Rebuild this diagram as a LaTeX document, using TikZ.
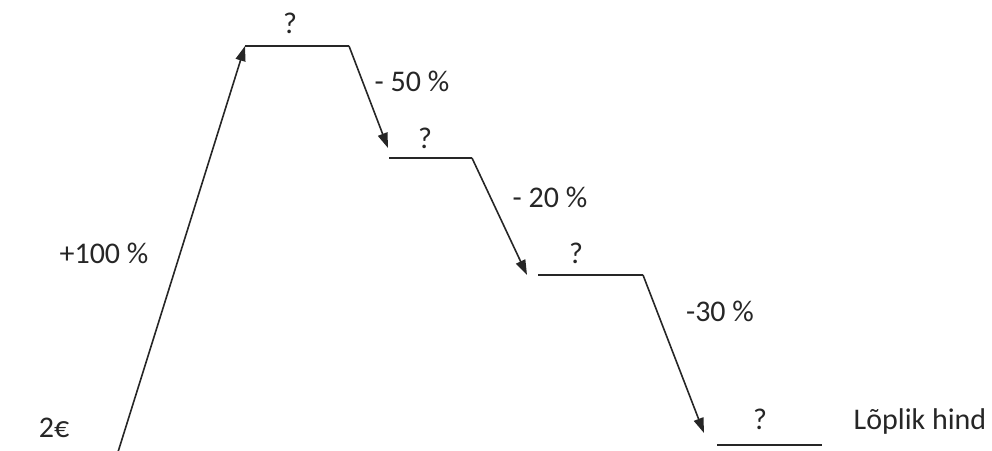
\documentclass[tikz,border=0pt]{standalone}
\usepackage{fontspec}
\setmainfont{Carlito}
\usetikzlibrary{arrows.meta}
\begin{document}
\begin{tikzpicture}[x=1pt,y=-1pt,
  line/.style={line width=1.6pt,black!85},
  arr/.style={line,-{Triangle[length=15pt,width=10pt]}},
  lbl/.style={anchor=base,inner sep=0pt,font=\fontsize{30}{36}\selectfont,text=black!85}]
\useasboundingbox (0,0) rectangle (992,450);
% coordinates of the path
\coordinate (s) at (118,452);
\coordinate (a1) at (245,46);
\coordinate (a2) at (349,46);
\coordinate (b0) at (388,148);
\coordinate (b1) at (389,158);
\coordinate (b2) at (472,158);
\coordinate (c0) at (527,275);
\coordinate (c1) at (538,275);
\coordinate (c2) at (643,275);
\coordinate (d0) at (704,433);
\coordinate (d1) at (717,445);
\coordinate (d2) at (822,445);
% connectors
\draw[arr] (s) -- (a1);
\draw[line] (a1) -- (a2);
\draw[arr] (a2) -- (b0);
\draw[line] (b1) -- (b2);
\draw[arr] (b2) -- (c0);
\draw[line] (c1) -- (c2);
\draw[arr] (c2) -- (d0);
\draw[line] (d1) -- (d2);
% labels
\node[lbl] (q1) at (290,33) {?};
\node[lbl] (q2) at (425,148) {?};
\node[lbl] (q3) at (576,263) {?};
\node[lbl] (q4) at (760,429) {?};
\node[lbl] (p50) at (412,91) {- 50 \%};
\node[lbl] (p20) at (550,207) {- 20 \%};
\node[lbl] (p30) at (720,321) {-30 \%};
\node[lbl] (p100) at (104,263) {+100 \%};
\node[lbl] (start) at (54,437) {2€};
\node[lbl] (end) at (920,429) {Lõplik hind};
\end{tikzpicture}
\end{document}
